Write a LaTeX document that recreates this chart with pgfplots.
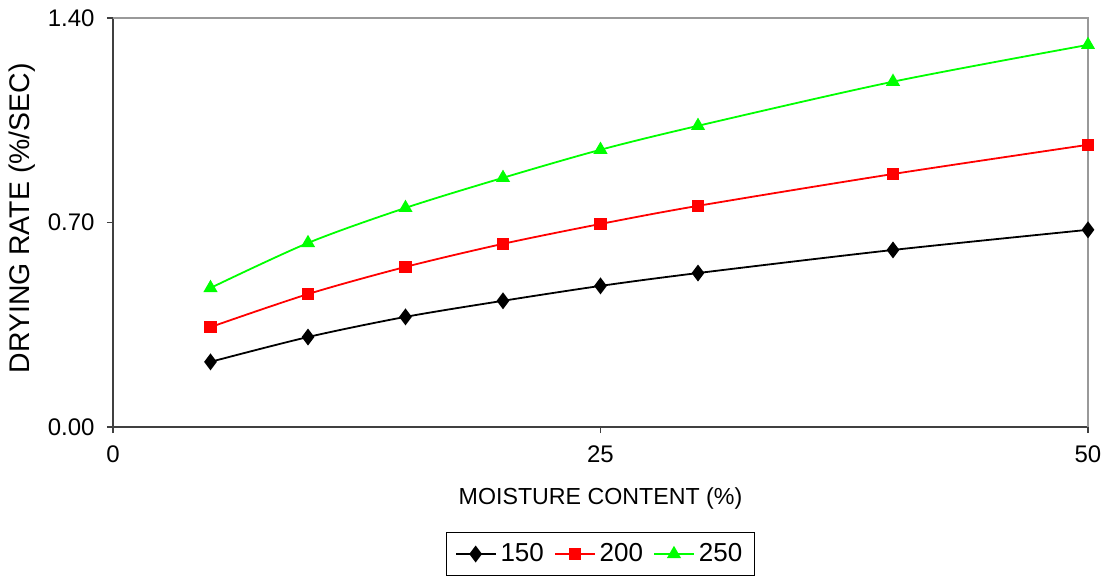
\documentclass[border=0pt]{standalone}
\usepackage{pgfplots}
\pgfplotsset{compat=1.18}
\usepackage{fontspec}
\setmainfont{Liberation Sans}
\definecolor{lgreen}{RGB}{0,255,0}
\definecolor{lred}{RGB}{255,0,0}
\begin{document}
\fontsize{12pt}{14pt}\selectfont
\begin{tikzpicture}
\path[use as bounding box] (-56.5pt,-76pt) rectangle (498.5pt,213.5pt);
\begin{axis}[
  scale only axis,
  width=487.5pt, height=204.5pt,
  xmin=0, xmax=50, ymin=0, ymax=1.40,
  axis lines=left,
  axis line style={-, draw=black!75, line width=1pt},
  xtick={0,25,50}, ytick={0,0.70,1.40},
  yticklabels={0.00,0.70,1.40},
  tick align=outside, major tick length=3pt,
  tick style={black!75, line width=0.8pt},
  /pgf/number format/assume math mode=true,
  ticklabel style={font=\fontsize{12pt}{14pt}\selectfont},
  xticklabel style={yshift=-2pt},
  yticklabel style={xshift=-2pt},
  xlabel={MOISTURE CONTENT (\%)},
  ylabel={DRYING RATE (\%/SEC)},
  xlabel style={font=\fontsize{11.6pt}{14pt}\selectfont, at={(axis description cs:0.5,-0.174)}, anchor=center},
  ylabel style={font=\fontsize{14.2pt}{16pt}\selectfont, at={(axis description cs:-0.093,0.51)}, anchor=center},
  clip=false,
  legend columns=3,
  legend style={at={(axis description cs:0.500,-0.3105)}, anchor=center,
    draw=black, line width=0.5pt, font=\fontsize{13pt}{15pt}\selectfont,
    inner xsep=4pt, inner ysep=3.5pt,
    /tikz/every even column/.append style={column sep=3pt}},
  legend image code/.code={\draw[#1] (0pt,0pt) -- (10pt,0pt) (0pt,0pt) -- (-10pt,0pt); \path[#1] plot coordinates {(0pt,0pt)};},
]
\draw[black!40, line width=1pt] (axis description cs:0,1) -- (axis description cs:1,1) -- (axis description cs:1,0);
\addplot[black, line width=0.9pt, smooth, tension=0.5, mark=diamond*, mark size=3.5pt, mark options={solid, fill=black}]
 coordinates {(5,0.223) (10,0.308) (15,0.377) (20,0.432) (25,0.483) (30,0.527) (40,0.606) (50,0.675)};
\addlegendentry{150}
\addplot[lred, line width=0.9pt, smooth, tension=0.5, mark=square*, mark size=2.6pt, mark options={solid, fill=lred}]
 coordinates {(5,0.342) (10,0.455) (15,0.548) (20,0.627) (25,0.695) (30,0.757) (40,0.866) (50,0.966)};
\addlegendentry{200}
\addplot[lgreen, line width=0.9pt, smooth, tension=0.5, mark=triangle*, mark size=3.2pt, mark options={solid, fill=lgreen}]
 coordinates {(5,0.476) (10,0.630) (15,0.750) (20,0.853) (25,0.949) (30,1.031) (40,1.182) (50,1.308)};
\addlegendentry{250}
\end{axis}
\end{tikzpicture}
\end{document}
